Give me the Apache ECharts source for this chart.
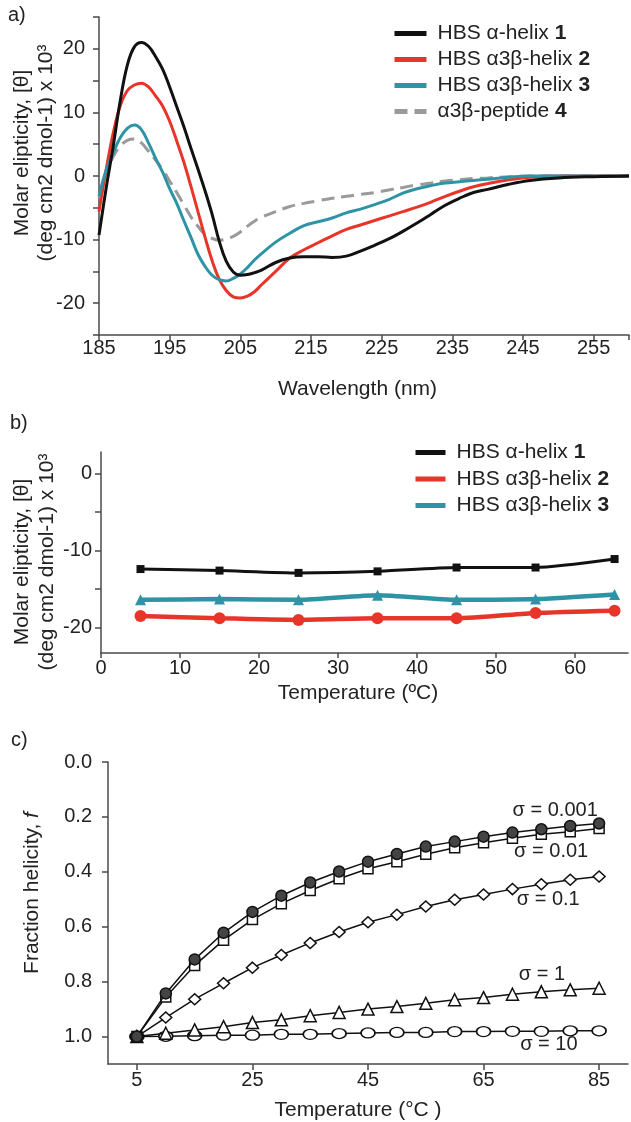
<!DOCTYPE html>
<html>
<head>
<meta charset="utf-8">
<script src="https://cdn.jsdelivr.net/npm/echarts@6/dist/echarts.min.js"></script>
<style>
  html, body { margin: 0; padding: 0; background: #fff; }
  #chart { width: 631px; height: 1122px; }
</style>
</head>
<body>
<div id="chart"></div>
<script>
// ---------- panel a: CD spectra ----------
const wavelengths = [185, 186, 187, 188, 189, 190, 191, 192, 193, 194, 195, 196, 197, 198, 199, 200,
  201, 202, 203, 204, 205, 206, 207, 208, 210, 212, 214, 216, 218, 220, 222, 224, 226, 228, 230,
  232, 234, 236, 238, 240, 243, 246, 250, 255, 260];
const cdHelix1 = [-9.3, -2.0, 4.6, 11.8, 17.4, 20.3, 21.0, 20.4, 18.8, 16.8, 14.0, 10.9, 7.8, 4.4, 1.1, -2.3,
  -6.0, -10.2, -13.4, -15.1, -15.6, -15.5, -15.2, -14.8, -13.6, -12.9, -12.7, -12.7, -12.8, -12.6, -11.8,
  -10.9, -9.9, -8.7, -7.4, -6.0, -4.6, -3.5, -2.6, -2.1, -1.3, -0.7, -0.3, -0.1, 0];
const cdHelix2 = [-5.6, 0.9, 6.7, 11.0, 13.4, 14.3, 14.6, 14.0, 12.6, 11.0, 8.6, 5.5, 2.2, -1.6, -5.6, -9.6,
  -13.3, -16.2, -18.0, -19.0, -19.2, -18.9, -18.2, -17.1, -15.0, -12.9, -11.6, -10.5, -9.4, -8.4, -7.7,
  -7.0, -6.3, -5.6, -4.9, -4.1, -3.2, -2.4, -1.7, -1.2, -0.6, -0.2, 0, 0, 0];
const cdHelix3 = [-3.2, 0.9, 3.6, 6.0, 7.5, 8.0, 7.3, 5.2, 2.8, 0.6, -2.0, -4.3, -7.0, -9.6, -12.3, -14.2,
  -15.6, -16.3, -16.5, -16.1, -15.4, -14.4, -13.2, -12.2, -10.4, -9.0, -7.8, -7.2, -6.6, -5.8, -5.2,
  -4.5, -3.7, -2.7, -2.0, -1.5, -1.1, -0.9, -0.7, -0.5, -0.2, 0, 0, 0, 0];
const cdPeptide4 = [-3.5, 0.4, 3.0, 4.7, 5.6, 5.8, 5.2, 3.9, 2.5, 1.0, -0.8, -2.6, -4.5, -6.4, -7.9, -9.2,
  -9.8, -10.1, -9.9, -9.5, -8.8, -7.9, -7.1, -6.5, -5.6, -4.8, -4.3, -3.9, -3.5, -3.2, -2.9,
  -2.6, -2.2, -1.8, -1.4, -1.1, -0.8, -0.6, -0.4, -0.3, -0.1, 0, 0, 0, 0];

// ---------- panel b: thermal melts ----------
const tempsB = [5, 15, 25, 35, 45, 55, 65];
const meltHelix1 = [-12.4, -12.6, -12.9, -12.7, -12.2, -12.2, -11.1];
const meltHelix2 = [-18.5, -18.8, -19.0, -18.8, -18.8, -18.1, -17.8];
const meltHelix3 = [-16.4, -16.3, -16.4, -15.8, -16.4, -16.3, -15.7];

// ---------- panel c: predicted fraction helicity ----------
const tempsC = [5, 10, 15, 20, 25, 30, 35, 40, 45, 50, 55, 60, 65, 70, 75, 80, 85];
const sigma0001 = [1.0, 0.843, 0.719, 0.622, 0.546, 0.487, 0.439, 0.399, 0.363, 0.335, 0.308, 0.290, 0.272, 0.257, 0.245, 0.233, 0.224];
const sigma001 = [1.0, 0.856, 0.741, 0.649, 0.574, 0.516, 0.468, 0.425, 0.389, 0.363, 0.336, 0.312, 0.294, 0.278, 0.263, 0.254, 0.242];
const sigma01 = [1.0, 0.931, 0.864, 0.806, 0.749, 0.703, 0.659, 0.619, 0.584, 0.556, 0.526, 0.502, 0.483, 0.463, 0.445, 0.429, 0.417];
const sigma1 = [1.0, 0.988, 0.976, 0.964, 0.949, 0.939, 0.924, 0.912, 0.900, 0.891, 0.879, 0.866, 0.858, 0.846, 0.837, 0.830, 0.824];
const sigma10 = [1.0, 0.999, 0.997, 0.995, 0.995, 0.992, 0.992, 0.989, 0.987, 0.985, 0.985, 0.982, 0.982, 0.981, 0.981, 0.979, 0.979];

// tick / label values
const ticksA_x = [185, 195, 205, 215, 225, 235, 245, 255, 260];
const labelsA_x = [185, 195, 205, 215, 225, 235, 245, 255];
const ticksA_y = [-25, -20, -15, -10, -5, 0, 5, 10, 15, 20, 25];
const labelsA_y = [-20, -10, 0, 10, 20];
const ticksB_x = [0, 10, 20, 30, 40, 50, 60];
const ticksB_y = [-20, -15, -10, -5, 0];
const labelsB_y = [-20, -10, 0];
const ticksC_x = [5, 25, 45, 65, 85];
const ticksC_y = [0, 0.2, 0.4, 0.6, 0.8, 1.0];

const names = ['HBS α-helix 1', 'HBS α3β-helix 2', 'HBS α3β-helix 3', 'α3β-peptide 4'];
const sigmaNames = ['σ = 0.001', 'σ = 0.01', 'σ = 0.1', 'σ = 1', 'σ = 10'];
// where the σ captions sit, in data units of panel c
const sigmaLabelAt = [[77.4, 0.175], [76.7, 0.326], [76.2, 0.501], [75.1, 0.773], [76.3, 1.028]];

const FONT = 'Liberation Sans, Arial, sans-serif';
const TXT = '#222';
const AXIS = '#4a4a4a';
const BLACK = '#111111', RED = '#e8352a', TEAL = '#2f93a6', GREY = '#9a9a9a';

const pairs = (xs, ys) => xs.map((x, i) => [x, ys[i]]);

function axis(o) {
  return {
    type: 'value',
    gridIndex: o.grid,
    min: o.min, max: o.max,
    inverse: !!o.inverse,
    splitLine: { show: false },
    axisLine: { show: true, onZero: false, lineStyle: { color: AXIS, width: 1.5 } },
    axisTick: { show: true, customValues: o.ticks, length: o.tickLen || 6, lineStyle: { color: AXIS, width: 1.5 } },
    axisLabel: {
      customValues: o.labels || o.ticks, fontSize: 20, color: TXT, fontFamily: FONT,
      margin: o.margin, formatter: o.fmt
    },
    name: o.name, nameLocation: 'middle', nameGap: o.nameGap,
    nameTextStyle: { fontSize: 21, color: TXT, fontFamily: FONT, padding: o.namePad || 0 }
  };
}

function legendFmt(name) {
  const i = name.lastIndexOf(' ');
  return '{n|' + name.slice(0, i + 1) + '}{b|' + name.slice(i + 1) + '}';
}
const legendRich = {
  n: { fontSize: 21, color: TXT, fontFamily: FONT, padding: [0, 0, 0, 6] },
  b: { fontSize: 21, color: TXT, fontFamily: FONT, fontWeight: 'bold' }
};
const hiddenMarker = { color: 'rgba(0,0,0,0)', borderColor: 'rgba(0,0,0,0)', borderWidth: 0 };

const cSymbols = [
  { symbol: 'circle', size: 11, fill: '#444' },
  { symbol: 'rect', size: 10, fill: '#fff' },
  { symbol: 'diamond', size: [12, 11], fill: '#fff' },
  { symbol: 'triangle', size: 12, fill: '#fff' },
  { symbol: 'circle', size: [14, 10], fill: '#fff' }
];
const sigmaData = [sigma0001, sigma001, sigma01, sigma1, sigma10];

const seriesC = sigmaData.map((ys, k) => ({
  name: sigmaNames[k],
  type: 'line',
  xAxisIndex: 2, yAxisIndex: 2,
  data: pairs(tempsC, ys),
  symbol: cSymbols[k].symbol,
  symbolSize: cSymbols[k].size,
  showAllSymbol: true,
  lineStyle: { color: BLACK, width: 1.5 },
  itemStyle: { color: cSymbols[k].fill, borderColor: BLACK, borderWidth: 1.5 },
  z: 10 - k,
  markPoint: {
    symbol: 'rect', symbolSize: 1,
    itemStyle: { color: 'rgba(0,0,0,0)' },
    label: { show: true, position: 'inside', formatter: sigmaNames[k], fontSize: 20, color: TXT, fontFamily: FONT },
    data: [{ coord: sigmaLabelAt[k] }]
  }
}));

const chart = echarts.init(document.getElementById('chart'));
chart.setOption({
  animation: false,
  textStyle: { fontFamily: FONT },
  grid: [
    { left: 99, top: 17, width: 530, height: 318 },
    { left: 101, top: 452, width: 527, height: 201 },
    { left: 108, top: 762, width: 520, height: 303 }
  ],
  xAxis: [
    axis({ grid: 0, min: 185, max: 260, ticks: ticksA_x, labels: labelsA_x, margin: 3, tickLen: 5,
      name: 'Wavelength (nm)', nameGap: 44, namePad: [0, 13, 0, 0] }),
    axis({ grid: 1, min: 0, max: 66.7, ticks: ticksB_x, margin: 5, tickLen: 5,
      name: 'Temperature (ºC)', nameGap: 30, namePad: [0, 13, 0, 0] }),
    axis({ grid: 2, min: 0, max: 90, ticks: ticksC_x, margin: 6, tickLen: 6,
      name: 'Temperature (°C )', nameGap: 36, namePad: [0, 20, 0, 0] })
  ],
  yAxis: [
    axis({ grid: 0, min: -25, max: 25, ticks: ticksA_y, labels: labelsA_y, margin: 14 }),
    axis({ grid: 1, min: -23.3, max: 2.8, ticks: ticksB_y, labels: labelsB_y, margin: 9 }),
    axis({ grid: 2, min: 0, max: 1.1, inverse: true, ticks: ticksC_y, margin: 16, fmt: v => v.toFixed(1) })
  ],
  legend: [
    {
      data: names, orient: 'vertical', left: 392, top: 23, padding: 0,
      itemWidth: 32, itemHeight: 14, itemGap: 5,
      lineStyle: { width: 5 }, itemStyle: hiddenMarker,
      formatter: legendFmt, textStyle: { lineHeight: 20, rich: legendRich }
    },
    {
      data: names.slice(0, 3), orient: 'vertical', left: 413, top: 442, padding: 0,
      itemWidth: 30, itemHeight: 14, itemGap: 5.5,
      lineStyle: { width: 5 }, itemStyle: hiddenMarker,
      formatter: legendFmt, textStyle: { lineHeight: 20, rich: legendRich }
    }
  ],
  graphic: [
    { type: 'text', left: 8, top: 5, style: { text: 'a)', fontSize: 20, fill: TXT, fontFamily: FONT } },
    { type: 'text', left: 10, top: 413, style: { text: 'b)', fontSize: 20, fill: TXT, fontFamily: FONT } },
    { type: 'text', left: 11, top: 730, style: { text: 'c)', fontSize: 20, fill: TXT, fontFamily: FONT } },
    { type: 'text', x: 34, y: 153, rotation: Math.PI / 2,
      style: { text: 'Molar elipticity, [θ]\n(deg cm2 dmol-1) x 10³', fontSize: 21, lineHeight: 24,
        align: 'center', verticalAlign: 'middle', fill: TXT, fontFamily: FONT } },
    { type: 'text', x: 35, y: 562, rotation: Math.PI / 2,
      style: { text: 'Molar elipticity, [θ]\n(deg cm2 dmol-1) x 10³', fontSize: 21, lineHeight: 25,
        align: 'center', verticalAlign: 'middle', fill: TXT, fontFamily: FONT } },
    { type: 'text', x: 32, y: 893, rotation: Math.PI / 2,
      style: { text: 'Fraction helicity, {i|f}', fontSize: 21, align: 'center', verticalAlign: 'middle',
        fill: TXT, fontFamily: FONT,
        rich: { i: { fontStyle: 'italic', fontSize: 21, fill: TXT, fontFamily: FONT } } } }
  ],
  series: [
    // panel a
    { name: names[0], type: 'line', xAxisIndex: 0, yAxisIndex: 0, data: pairs(wavelengths, cdHelix1),
      symbol: 'none', smooth: 0.4, lineStyle: { color: BLACK, width: 3 }, itemStyle: { color: BLACK }, z: 4 },
    { name: names[1], type: 'line', xAxisIndex: 0, yAxisIndex: 0, data: pairs(wavelengths, cdHelix2),
      symbol: 'none', smooth: 0.4, lineStyle: { color: RED, width: 3 }, itemStyle: { color: RED }, z: 3 },
    { name: names[2], type: 'line', xAxisIndex: 0, yAxisIndex: 0, data: pairs(wavelengths, cdHelix3),
      symbol: 'none', smooth: 0.4, lineStyle: { color: TEAL, width: 3 }, itemStyle: { color: TEAL }, z: 3 },
    { name: names[3], type: 'line', xAxisIndex: 0, yAxisIndex: 0, data: pairs(wavelengths, cdPeptide4),
      symbol: 'none', smooth: 0.4, lineStyle: { color: GREY, width: 3, type: [13, 7] }, itemStyle: { color: GREY }, z: 2 },
    // panel b
    { name: names[0], type: 'line', xAxisIndex: 1, yAxisIndex: 1, data: pairs(tempsB, meltHelix1),
      symbol: 'rect', symbolSize: 8, smooth: 0.2, lineStyle: { color: BLACK, width: 3 }, itemStyle: { color: BLACK } },
    { name: names[1], type: 'line', xAxisIndex: 1, yAxisIndex: 1, data: pairs(tempsB, meltHelix2),
      symbol: 'circle', symbolSize: 12, smooth: 0.2, lineStyle: { color: RED, width: 4.5 }, itemStyle: { color: RED } },
    { name: names[2], type: 'line', xAxisIndex: 1, yAxisIndex: 1, data: pairs(tempsB, meltHelix3),
      symbol: 'triangle', symbolSize: 11, smooth: 0.2, lineStyle: { color: TEAL, width: 4.5 }, itemStyle: { color: TEAL } },
    // panel c
    ...seriesC
  ]
});
</script>
</body>
</html>
